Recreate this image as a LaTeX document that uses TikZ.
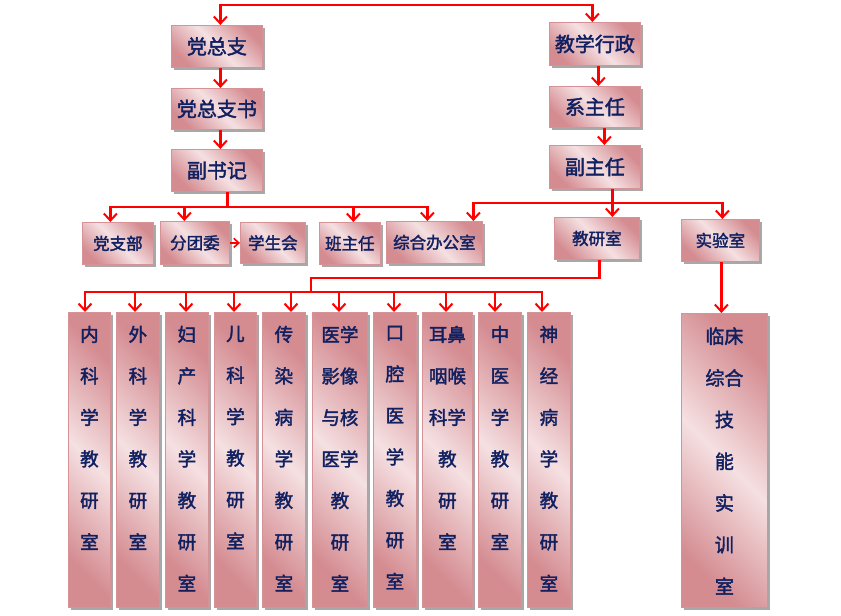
\documentclass[tikz,border=0pt]{standalone}
\usepackage{fontspec}
\newfontfamily\cjk{Noto Sans CJK SC}[AutoFakeBold=2]
\usetikzlibrary{arrows.meta,shadows}
\definecolor{pinkdark}{RGB}{212,140,145}
\definecolor{pinklight}{RGB}{245,224,226}
\definecolor{pinkborder}{RGB}{214,146,150}
\definecolor{navy}{RGB}{16,32,96}
\definecolor{shadowgray}{RGB}{168,168,168}
\newcommand\topfont{\fontsize{20}{24}\selectfont}
\newcommand\midfont{\fontsize{16.5}{20}\selectfont}
\newcommand\colfont{\fontsize{18.5}{41.5}\selectfont}
\newcommand\clinfont{\fontsize{19}{41.7}\selectfont}
\begin{document}
\begin{tikzpicture}[x=1pt,y=-1pt,
  box/.style={draw=pinkborder, line width=0.8pt,
    left color=pinkdark, right color=pinkdark, middle color=pinklight,
    shading angle=135,
    drop shadow={shadow xshift=2.5pt, shadow yshift=-2.5pt, fill=shadowgray, opacity=1},
    inner sep=0pt, text=navy, anchor=north west, font=\cjk\bfseries},
  link/.style={draw=red, line width=2.6pt},
  arr/.style={link, -{Straight Barb[length=7pt,width=13pt,line width=2pt]}},
  arr2/.style={link, {Straight Barb[length=7pt,width=13pt,line width=2pt]}-{Straight Barb[length=7pt,width=13pt,line width=2pt]}},
  smallarr/.style={draw=red, line width=2pt, -{Straight Barb[length=5pt,width=9pt,line width=1.6pt]}}]
\useasboundingbox (0,0) rectangle (841,616);

% top level boxes
\node[box, minimum width=91pt, minimum height=42pt, font=\cjk\bfseries\topfont] (dzz) at (171,25) {党总支};
\node[box, minimum width=91pt, minimum height=41pt, font=\cjk\bfseries\topfont] (dzzs) at (171,88) {党总支书};
\node[box, minimum width=91pt, minimum height=42pt, font=\cjk\bfseries\topfont] (fsj) at (171,149) {副书记};
\node[box, minimum width=91pt, minimum height=43pt, font=\cjk\bfseries\topfont] (jxxz) at (549,22) {教学行政};
\node[box, minimum width=91pt, minimum height=41pt, font=\cjk\bfseries\topfont] (xzr) at (549,86) {系主任};
\node[box, minimum width=91pt, minimum height=43pt, font=\cjk\bfseries\topfont] (fzr) at (549,145) {副主任};

% second row
\node[box, minimum width=71pt, minimum height=42pt, font=\cjk\bfseries\midfont] (dzb) at (82,222) {党支部};
\node[box, minimum width=69pt, minimum height=43pt, font=\cjk\bfseries\midfont] (ftw) at (160,221) {分团委};
\node[box, minimum width=65pt, minimum height=41pt, font=\cjk\bfseries\midfont] (xsh) at (240,222) {学生会};
\node[box, minimum width=61pt, minimum height=42pt, font=\cjk\bfseries\midfont] (bzr) at (319,222) {班主任};
\node[box, minimum width=96pt, minimum height=42pt, font=\cjk\bfseries\midfont] (zhbgs) at (386,221) {综合办公室};
\node[box, minimum width=85pt, minimum height=42pt, font=\cjk\bfseries\midfont] (jys) at (554,217) {教研室};
\node[box, minimum width=78pt, minimum height=42pt, font=\cjk\bfseries\midfont] (syg) at (681,219) {实验室};

% clinic box
\node[box, minimum width=86pt, minimum height=294pt] (lc) at (681,313)
  {\parbox[c][294pt][t]{60pt}{\centering\clinfont\vspace*{14pt}临床\\综合\\技\\能\\实\\训\\室}};

% connectors top
\draw[arr2] ([xshift=3.5pt]dzz.north) -- ++(0,-20) -| ([xshift=-2.5pt]jxxz.north);
\draw[arr] ([xshift=3.5pt]dzz.south) -- ([xshift=3.5pt]dzzs.north);
\draw[arr] ([xshift=3.5pt]dzzs.south) -- ([xshift=3.5pt]fsj.north);
\draw[arr] ([xshift=3.5pt]jxxz.south) -- ([xshift=3.5pt]xzr.north);
\draw[arr] ([xshift=9.5pt]xzr.south) -- ([xshift=9.5pt]fzr.north);

% 副书记 branch
\draw[link] ([xshift=10.5pt]fsj.south) -- ++(0,15) coordinate (b1);
\draw[arr] (b1) -| ([xshift=-7.5pt]dzb.north);
\draw[arr] (b1) -| ([xshift=-10.5pt]ftw.north);
\draw[arr] (b1) -| ([xshift=3.5pt]bzr.north);
\draw[arr] (b1) -| ([xshift=-7pt]zhbgs.north);
\draw[smallarr] (ftw.east) -- (xsh.west);

% 副主任 branch
\draw[link] ([xshift=17.5pt]fzr.south) -- ++(0,14) coordinate (b2);
\draw[arr] (b2) -- ([xshift=15.5pt]jys.north);
\draw[arr] (b2) -| ([xshift=39pt]zhbgs.north);
\draw[arr] (b2) -| ([xshift=2pt]syg.north);

% 教研室 to columns
\coordinate (b3) at (311,292);
\draw[link] ([xshift=2.5pt]jys.south) -- ++(0,18) -| (b3);
\foreach \n/\xa/\w/\ax/\t in {
  c1/68/42/85/{内\\科\\学\\教\\研\\室},
  c2/116/43/135/{外\\科\\学\\教\\研\\室},
  c3/165/43/186/{妇\\产\\科\\学\\教\\研\\室},
  c4/214/42/234/{儿\\科\\学\\教\\研\\室},
  c5/262/43/291/{传\\染\\病\\学\\教\\研\\室},
  c6/312/55/339/{医学\\影像\\与核\\医学\\教\\研\\室},
  c7/373/43/394/{口\\腔\\医\\学\\教\\研\\室},
  c8/422/50/446/{耳鼻\\咽喉\\科学\\教\\研\\室},
  c9/478/43/495/{中\\医\\学\\教\\研\\室},
  c10/527/43/542/{神\\经\\病\\学\\教\\研\\室}}{
  \node[box, minimum width=\w pt, minimum height=295pt] (\n) at (\xa,312)
    {\parbox[c][295pt][t]{40pt}{\centering\colfont\vspace*{13.5pt}\t}};
  \coordinate (a\n) at (\ax,0);
  \draw[arr] (b3) -| (a\n |- \n.north);
}

% 实验室 to clinic
\draw[arr] ([xshift=1pt]syg.south) -- ([xshift=-3pt]lc.north);
\end{tikzpicture}
\end{document}
